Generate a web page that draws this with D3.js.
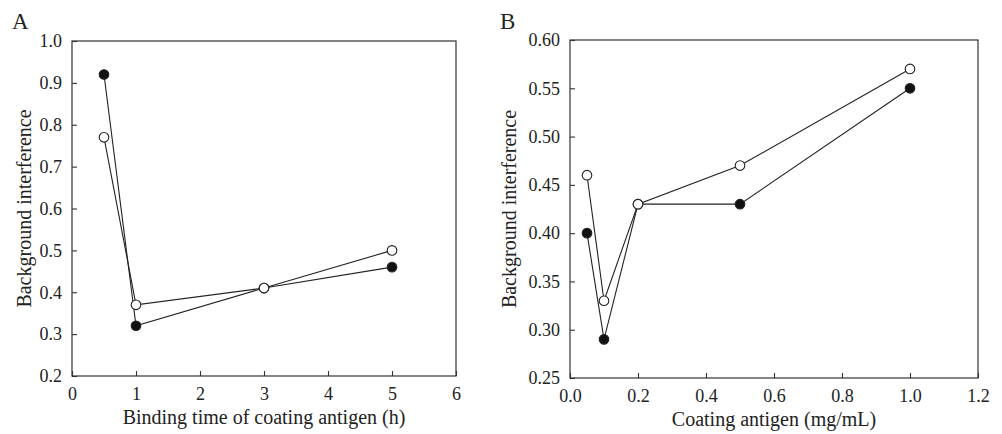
<!DOCTYPE html>
<html><head><meta charset="utf-8">
<script src="https://cdn.jsdelivr.net/npm/d3@7"></script>
<style>
body{margin:0;background:#fff;}
text{font-family:"Liberation Serif","DejaVu Serif",serif;fill:#222;}
</style></head>
<body>
<svg id="c" width="1002" height="434"></svg>
<script>
// Panel A data
const timeA = [0.5, 1, 3, 5];
const filledA = [0.92, 0.32, 0.41, 0.46];
const openA = [0.77, 0.37, 0.41, 0.50];
const xTicksA = [0,1,2,3,4,5,6];
const yTicksA = [0.2,0.3,0.4,0.5,0.6,0.7,0.8,0.9,1.0];

// Panel B data
const concB = [0.05, 0.1, 0.2, 0.5, 1.0];
const filledB = [0.40, 0.29, 0.43, 0.43, 0.55];
const openB = [0.46, 0.33, 0.43, 0.47, 0.57];
const xTicksB = [0.0,0.2,0.4,0.6,0.8,1.0,1.2];
const yTicksB = [0.25,0.30,0.35,0.40,0.45,0.50,0.55,0.60];

const svg = d3.select("#c");

function panel(o){
  const g = svg.append("g");
  const x = d3.scaleLinear().domain(o.xd).range([o.l, o.r]);
  const y = d3.scaleLinear().domain(o.yd).range([o.b, o.t]);
  g.append("rect").attr("x", o.l).attr("y", o.t).attr("width", o.r-o.l).attr("height", o.b-o.t)
    .attr("fill","none").attr("stroke","#333").attr("stroke-width",1.2);
  const xa = g.append("g").attr("transform",`translate(0,${o.b})`)
    .call(d3.axisBottom(x).tickValues(o.xt).tickSize(-5).tickPadding(11).tickFormat(o.xf));
  const ya = g.append("g").attr("transform",`translate(${o.l},0)`)
    .call(d3.axisLeft(y).tickValues(o.yt).tickSize(-5).tickPadding(10).tickFormat(o.yf));
  [xa, ya].forEach(a=>{
    a.select(".domain").remove();
    a.selectAll("line").attr("stroke","#333").attr("stroke-width",1.1);
    a.selectAll("text").attr("font-size",18).attr("font-family","Liberation Serif").attr("fill","#222");
  });
  g.append("text").attr("x",(o.l+o.r)/2).attr("y",o.b+48).attr("text-anchor","middle")
    .attr("font-size",20).text(o.xl);
  g.append("text").attr("transform",`translate(${o.yx},${(o.t+o.b)/2}) rotate(-90)`)
    .attr("text-anchor","middle").attr("font-size",20).text(o.yl);
  g.append("text").attr("x",o.px).attr("y",29).attr("font-size",23).text(o.p);
  const line = d3.line().x(d=>x(d[0])).y(d=>y(d[1]));
  const series = [
    {v:o.filled, fill:"#111"},
    {v:o.open, fill:"#fff"}
  ];
  series.forEach(s=>{
    const pts = o.xs.map((xv,i)=>[xv, s.v[i]]);
    g.append("path").datum(pts).attr("d",line).attr("fill","none").attr("stroke","#222").attr("stroke-width",1.1);
  });
  series.forEach(s=>{
    const pts = o.xs.map((xv,i)=>[xv, s.v[i]]);
    g.selectAll(null).data(pts).enter().append("circle")
      .attr("cx",d=>x(d[0])).attr("cy",d=>y(d[1])).attr("r",4.8)
      .attr("fill",s.fill).attr("stroke","#222").attr("stroke-width",1.1);
  });
}

panel({l:72,r:456,t:41,b:376,xd:[0,6],yd:[0.2,1.0],xt:xTicksA,yt:yTicksA,
  xf:d3.format("d"),yf:d3.format(".1f"),xs:timeA,filled:filledA,open:openA,
  xl:"Binding time of coating antigen (h)",yl:"Background interference",yx:31,px:12,p:"A"});
panel({l:570,r:978,t:40,b:378,xd:[0,1.2],yd:[0.25,0.60],xt:xTicksB,yt:yTicksB,
  xf:d3.format(".1f"),yf:d3.format(".2f"),xs:concB,filled:filledB,open:openB,
  xl:"Coating antigen (mg/mL)",yl:"Background interference",yx:516,px:500,p:"B"});
</script>
</body></html>
